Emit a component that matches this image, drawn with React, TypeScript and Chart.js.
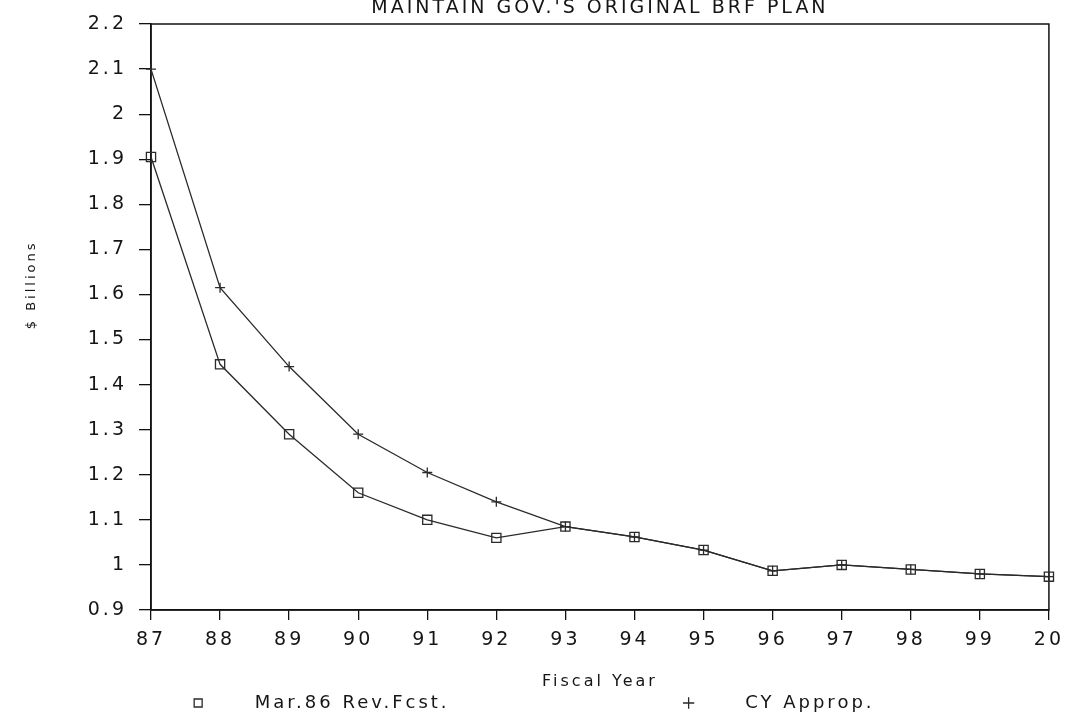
import React, { useEffect, useRef } from "react";
import { Chart, registerables } from "chart.js";

Chart.register(...registerables);

// ---- data ----
const chartTitle = "MAINTAIN GOV.'S ORIGINAL BRF PLAN";
const xAxisTitle = "Fiscal Year";
const yAxisTitle = "$ Billions";
const fiscalYears = ["87", "88", "89", "90", "91", "92", "93", "94", "95", "96", "97", "98", "99", "20"];
const revForecastLabel = "Mar.86 Rev.Fcst.";
const revForecast = [1.905, 1.445, 1.29, 1.16, 1.1, 1.06, 1.085, 1.062, 1.033, 0.987, 1.0, 0.99, 0.98, 0.974];
const cyApropLabel = "CY Approp.";
const cyAprop = [2.1, 1.615, 1.44, 1.29, 1.205, 1.14, 1.085, 1.062, 1.033, 0.987, 1.0, 0.99, 0.98, 0.974];
const yMin = 0.9;
const yMax = 2.2;
const yStep = 0.1;

// ---- style ----
const FONT = "'DejaVu Sans', sans-serif";
const INK = "#151515";
const LINE = "#2a2a2a";
const SPACING = "3px";

const setSpacing = (chart: any) => {
  try {
    chart.ctx.letterSpacing = SPACING;
  } catch (e) {}
};

const letterSpacingPlugin = {
  id: "letterSpacing",
  beforeUpdate: setSpacing,
  beforeLayout: setSpacing,
  beforeDraw: setSpacing,
};

const framePlugin = {
  id: "frame",
  beforeDatasetsDraw(chart: any) {
    const { ctx, chartArea: a } = chart;
    ctx.save();
    ctx.strokeStyle = "#111";
    ctx.lineWidth = 1.5;
    ctx.strokeRect(a.left, a.top, a.right - a.left, a.bottom - a.top);
    ctx.restore();
  },
};

export default function App() {
  const canvasRef = useRef<HTMLCanvasElement | null>(null);

  useEffect(() => {
    if (!canvasRef.current) return;
    const chart = new Chart(canvasRef.current, {
      type: "line",
      data: {
        labels: fiscalYears,
        datasets: [
          {
            label: revForecastLabel,
            data: revForecast,
            borderColor: LINE,
            borderWidth: 1.3,
            backgroundColor: "rgba(0,0,0,0)",
            pointStyle: "rect",
            pointRadius: 6.5,
            pointBorderWidth: 1.3,
            pointBorderColor: LINE,
            pointBackgroundColor: "rgba(255,255,255,0)",
            tension: 0,
            clip: false,
          },
          {
            label: cyApropLabel,
            data: cyAprop,
            borderColor: LINE,
            borderWidth: 1.3,
            backgroundColor: "rgba(0,0,0,0)",
            pointStyle: "cross",
            pointRadius: 5,
            pointBorderWidth: 1.3,
            pointBorderColor: LINE,
            pointBackgroundColor: "rgba(255,255,255,0)",
            tension: 0,
            clip: false,
          },
        ],
      },
      options: {
        animation: false,
        responsive: true,
        maintainAspectRatio: false,
        layout: { padding: { left: 0, right: 16, top: 0, bottom: -6 } },
        plugins: {
          tooltip: { enabled: false },
          title: {
            display: true,
            text: chartTitle,
            fullSize: false,
            color: INK,
            font: { family: FONT, size: 19, weight: "normal", lineHeight: 1 },
            padding: { top: -1, bottom: 6 },
          },
          legend: {
            display: true,
            position: "bottom",
            align: "start",
            fullSize: false,
            onClick: () => {},
            labels: {
              usePointStyle: true,
              boxWidth: 8,
              boxHeight: 8,
              padding: 0,
              color: INK,
              font: { family: FONT, size: 18 },
              generateLabels: (c: any) => {
                const items = (Chart as any).defaults.plugins.legend.labels.generateLabels(c);
                const spacer = (n: number) => ({
                  text: " ".repeat(n),
                  fillStyle: "rgba(0,0,0,0)",
                  strokeStyle: "rgba(0,0,0,0)",
                  fontColor: INK,
                  lineWidth: 0,
                  hidden: false,
                  pointStyle: "circle",
                  datasetIndex: -1,
                });
                const pad = (it: any) => ({
                  ...it,
                  text: "     " + it.text,
                  fillStyle: "rgba(0,0,0,0)",
                  strokeStyle: LINE,
                  fontColor: INK,
                  lineWidth: 1.3,
                });
                return [spacer(3), pad(items[0]), spacer(25), pad(items[1])];
              },
            },
          },
        },
        scales: {
          x: {
            type: "category",
            offset: false,
            grid: {
              drawOnChartArea: false,
              drawTicks: true,
              tickLength: 10,
              color: "#111",
              lineWidth: 1.3,
            },
            border: { display: true, color: "#111", width: 1.5 },
            ticks: {
              autoSkip: false,
              maxRotation: 0,
              padding: 9,
              color: INK,
              font: { family: FONT, size: 19 },
            },
            title: {
              display: true,
              text: xAxisTitle,
              color: INK,
              font: { family: FONT, size: 16 },
              padding: { top: 2, bottom: 3 },
            },
            afterFit: (s: any) => {
              s.height = 84;
            },
          },
          y: {
            type: "linear",
            min: yMin,
            max: yMax,
            grid: {
              drawOnChartArea: false,
              drawTicks: true,
              tickLength: 12,
              color: "#111",
              lineWidth: 1.3,
            },
            border: { display: true, color: "#111", width: 1.5 },
            ticks: {
              stepSize: yStep,
              padding: 12,
              color: INK,
              font: { family: FONT, size: 19 },
              callback: (v: any) => String(Math.round(Number(v) * 10) / 10),
            },
            title: {
              display: true,
              text: "         " + yAxisTitle,
              color: INK,
              font: { family: FONT, size: 13 },
              padding: { top: 24, bottom: 0 },
            },
            afterFit: (s: any) => {
              s.width = 151;
            },
          },
        },
      },
      plugins: [letterSpacingPlugin, framePlugin],
    } as any);
    return () => chart.destroy();
  }, []);

  return (
    <div style={{ position: "fixed", left: 0, top: 0, width: "1073px", height: "716px", background: "#fff" }}>
      <canvas ref={canvasRef} />
    </div>
  );
}
